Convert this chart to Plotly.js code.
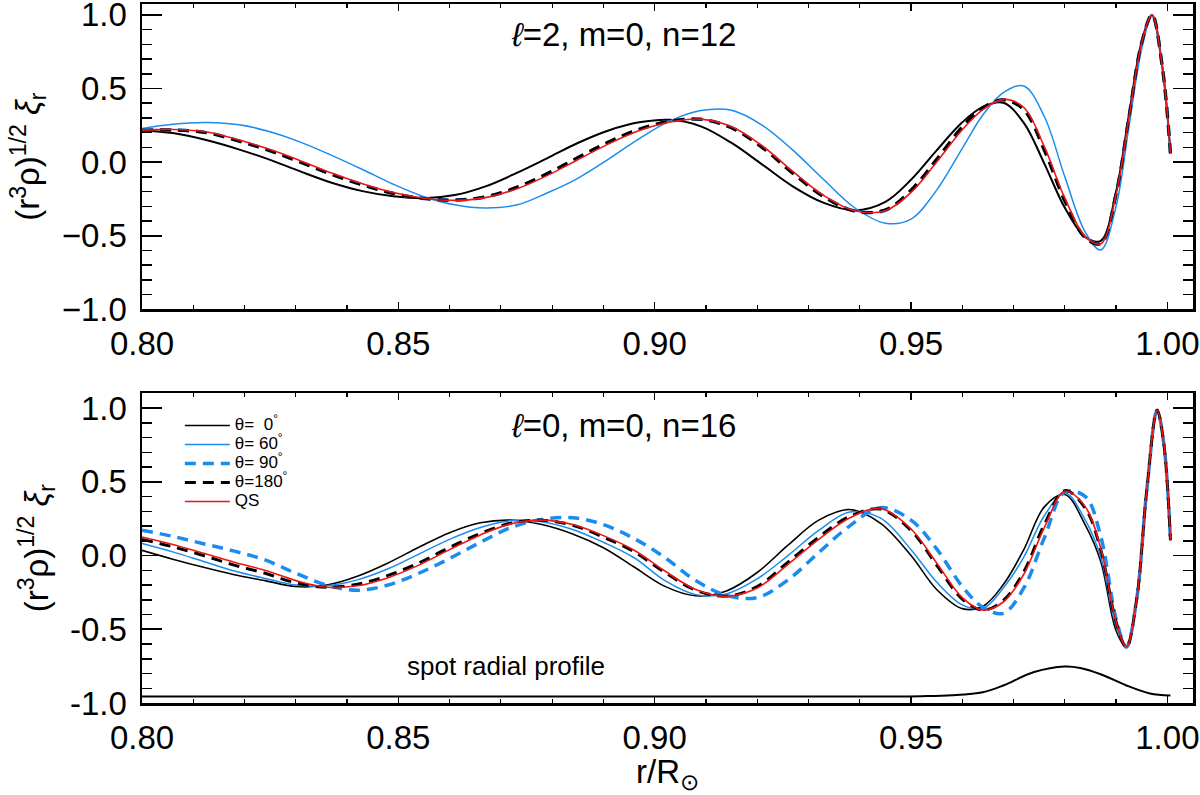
<!DOCTYPE html>
<html>
<head>
<meta charset="utf-8">
<script src="https://cdn.plot.ly/plotly-3.0.1.min.js"></script>
<style>
  html, body { margin: 0; padding: 0; background: #fff; }
  #chart { width: 1200px; height: 795px; }
</style>
</head>
<body>
<div id="chart"></div>
<script>
// ---- data ----
// upper panel: l=2, m=0, n=12
var xTop = [0.800, 0.806, 0.8127, 0.819, 0.825, 0.831, 0.837, 0.843, 0.849, 0.855,
            0.861, 0.867, 0.873, 0.879, 0.885, 0.891, 0.897, 0.903, 0.909, 0.915,
            0.921, 0.927, 0.933, 0.939, 0.945, 0.950, 0.955, 0.960, 0.964, 0.968,
            0.972, 0.976, 0.980, 0.984, 0.987, 0.990, 0.9925, 0.995, 0.997, 0.999, 1.0006];
var top0 =   [0.215, 0.197, 0.148, 0.085, 0.015, -0.065, -0.140, -0.197, -0.232, -0.245,
              -0.224, -0.165, -0.075, 0.026, 0.130, 0.215, 0.270, 0.287, 0.243, 0.130,
              -0.017, -0.166, -0.277, -0.328, -0.270, -0.120, 0.080, 0.270, 0.375, 0.403,
              0.267, -0.010, -0.310, -0.510, -0.535, -0.200, 0.320, 0.820, 1.000, 0.650, 0.061];
var top60 =  [0.229, 0.258, 0.269, 0.253, 0.206, 0.134, 0.046, -0.050, -0.150, -0.235,
              -0.290, -0.312, -0.292, -0.210, -0.110, 0.020, 0.160, 0.280, 0.350, 0.352,
              0.250, 0.080, -0.120, -0.310, -0.415, -0.387, -0.190, 0.094, 0.320, 0.472,
              0.517, 0.310, -0.100, -0.477, -0.597, -0.300, 0.240, 0.770, 0.990, 0.650, 0.060];
var top90 =  [0.217, 0.219, 0.200, 0.143, 0.077, -0.001, -0.083, -0.154, -0.212, -0.247,
              -0.258, -0.237, -0.174, -0.080, 0.029, 0.135, 0.222, 0.277, 0.291, 0.234,
              0.101, -0.075, -0.233, -0.332, -0.327, -0.194, 0.015, 0.235, 0.367, 0.423,
              0.358, 0.085, -0.260, -0.512, -0.554, -0.217, 0.302, 0.811, 1.000, 0.650, 0.060];
var top180 = [0.216, 0.218, 0.199, 0.142, 0.076, -0.002, -0.084, -0.155, -0.213, -0.248,
              -0.258, -0.236, -0.172, -0.078, 0.031, 0.137, 0.224, 0.278, 0.291, 0.232,
              0.098, -0.078, -0.236, -0.333, -0.325, -0.190, 0.020, 0.240, 0.370, 0.423,
              0.355, 0.080, -0.265, -0.515, -0.553, -0.215, 0.305, 0.812, 1.000, 0.650, 0.060];
var topQS =  [0.217, 0.222, 0.205, 0.150, 0.085, 0.008, -0.074, -0.147, -0.207, -0.245,
              -0.260, -0.241, -0.183, -0.092, 0.016, 0.124, 0.215, 0.273, 0.292, 0.240,
              0.110, -0.065, -0.227, -0.330, -0.330, -0.206, 0.000, 0.220, 0.356, 0.426,
              0.371, 0.105, -0.245, -0.507, -0.555, -0.220, 0.300, 0.810, 1.000, 0.650, 0.060];

// lower panel: l=0, m=0, n=16
var xBot = [0.800, 0.806, 0.812, 0.818, 0.824, 0.830, 0.836, 0.842, 0.848, 0.854,
            0.860, 0.866, 0.872, 0.878, 0.884, 0.890, 0.896, 0.902, 0.908, 0.914,
            0.920, 0.926, 0.932, 0.938, 0.944, 0.950, 0.955, 0.960, 0.964, 0.968,
            0.972, 0.976, 0.980, 0.984, 0.987, 0.990, 0.992, 0.994, 0.996, 0.998, 0.9993, 1.0006];
var bot0 =   [0.035, -0.025, -0.080, -0.130, -0.170, -0.210, -0.200, -0.140, -0.050, 0.056,
              0.155, 0.222, 0.240, 0.210, 0.146, 0.053, -0.078, -0.209, -0.273, -0.240,
              -0.115, 0.070, 0.240, 0.312, 0.220, 0.000, -0.230, -0.360, -0.345, -0.197,
              0.040, 0.330, 0.414, 0.206, -0.040, -0.510, -0.621, -0.300, 0.450, 0.985, 0.760, 0.104];
var bot60 =  [0.082, 0.025, -0.040, -0.105, -0.155, -0.200, -0.205, -0.165, -0.090, 0.010,
              0.110, 0.190, 0.237, 0.230, 0.177, 0.090, -0.015, -0.170, -0.265, -0.260,
              -0.158, 0.000, 0.170, 0.295, 0.255, 0.040, -0.180, -0.335, -0.360, -0.220,
              -0.010, 0.270, 0.425, 0.240, -0.010, -0.480, -0.621, -0.300, 0.450, 0.985, 0.760, 0.104];
var bot90 =  [0.172, 0.130, 0.080, 0.030, -0.030, -0.120, -0.200, -0.235, -0.200, -0.120,
              -0.020, 0.090, 0.190, 0.245, 0.257, 0.210, 0.115, -0.014, -0.170, -0.270,
              -0.285, -0.165, 0.020, 0.200, 0.325, 0.240, 0.045, -0.210, -0.350, -0.392,
              -0.220, 0.120, 0.430, 0.400, 0.130, -0.430, -0.621, -0.300, 0.450, 0.985, 0.760, 0.104];
var bot180 = [0.109, 0.060, 0.000, -0.065, -0.120, -0.185, -0.215, -0.195, -0.135, -0.050,
              0.055, 0.150, 0.220, 0.240, 0.205, 0.125, 0.025, -0.115, -0.235, -0.275,
              -0.210, -0.045, 0.125, 0.265, 0.315, 0.170, -0.065, -0.295, -0.370, -0.305,
              -0.110, 0.210, 0.440, 0.320, 0.040, -0.450, -0.621, -0.300, 0.450, 0.985, 0.760, 0.104];
var botQS =  [0.126, 0.075, 0.015, -0.045, -0.100, -0.170, -0.215, -0.205, -0.150, -0.065,
              0.040, 0.140, 0.215, 0.240, 0.210, 0.135, 0.036, -0.105, -0.230, -0.276,
              -0.220, -0.060, 0.110, 0.255, 0.318, 0.180, -0.050, -0.285, -0.370, -0.315,
              -0.127, 0.190, 0.435, 0.330, 0.050, -0.450, -0.621, -0.300, 0.450, 0.985, 0.760, 0.104];

// spot radial profile (lower panel)
var spotX = [0.800, 0.850, 0.900, 0.940, 0.952, 0.958, 0.964, 0.968, 0.974, 0.980, 0.983, 0.987, 0.992, 0.9966, 1.0006];
var spotY = [-0.956, -0.956, -0.956, -0.956, -0.954, -0.948, -0.927, -0.881, -0.790, -0.752, -0.762, -0.805, -0.881, -0.935, -0.950];

var legendNames = ['θ=\u00a0\u00a00<sup>°</sup>', 'θ=\u00a060<sup>°</sup>', 'θ=\u00a090<sup>°</sup>',
                   'θ=180<sup>°</sup>', 'QS'];
var yTickVals = [-1.0, -0.5, 0.0, 0.5, 1.0];
var yTickTextTop = ['\u22121.0', '\u22120.5', '0.0', '0.5', '1.0'];
var yTickTextBot = ['-1.0', '-0.5', '0.0', '0.5', '1.0'];
var panelLabels = ['<i>ℓ</i>=2, m=0, n=12', '<i>ℓ</i>=0, m=0, n=16'];

// ---- styles ----
var BLUE = '#1a8cf0', RED = '#f01414', BLACK = '#000000';
var FONT = 'Liberation Sans, Arial, Helvetica, sans-serif';

function curves(x, ys, xa, ya, showleg, w0) {
    var styles = [
        {color: BLACK, width: w0, dash: 'solid'},
        {color: BLUE, width: 1.5, dash: 'solid'},
        {color: BLUE, width: 3.5, dash: '11px,7px'},
        {color: BLACK, width: 3, dash: '11px,7px'},
        {color: RED, width: 1.6, dash: 'solid'}
    ];
    return ys.map(function (y, i) {
        return {
            x: x, y: y, xaxis: xa, yaxis: ya,
            type: 'scatter', mode: 'lines',
            line: {color: styles[i].color, width: styles[i].width, dash: styles[i].dash,
                   shape: 'spline', smoothing: 1},
            // legend rows are spaced by the small legend font, text drawn larger
            name: '<span style="font-size:17px">' + legendNames[i] + '</span>',
            showlegend: showleg,
            hoverinfo: 'skip'
        };
    });
}

var data = []
    .concat(curves(xTop, [top0, top60, top90, top180, topQS], 'x', 'y', false, 2))
    .concat(curves(xBot, [bot0, bot60, bot90, bot180, botQS], 'x2', 'y2', true, 1.6));
data.push({
    x: spotX, y: spotY, xaxis: 'x2', yaxis: 'y2',
    type: 'scatter', mode: 'lines',
    line: {color: BLACK, width: 2, shape: 'spline', smoothing: 1},
    showlegend: false, hoverinfo: 'skip'
});

function xAxis(anchor) {
    return {
        anchor: anchor, domain: [0, 1], range: [0.80, 1.005],
        showgrid: false, zeroline: false,
        showline: true, linecolor: BLACK, linewidth: 2.5, mirror: 'ticks',
        ticks: 'inside', ticklen: 7, tickwidth: 1.5, tickcolor: BLACK,
        dtick: 0.05, tick0: 0.80, tickformat: '.2f',
        minor: {dtick: 0.01, ticks: 'inside', ticklen: 4, tickwidth: 1.2, tickcolor: BLACK},
        tickfont: {family: FONT, size: 33, color: BLACK},
        ticklabelstandoff: 4, ticklabeloverflow: 'allow',
        fixedrange: true
    };
}
function yAxis(anchor, dom, top, text) {
    return {
        anchor: anchor, domain: dom, range: [-1.0, top],
        showgrid: false, zeroline: false,
        showline: true, linecolor: BLACK, linewidth: 2.5, mirror: 'ticks',
        ticks: 'inside', ticklen: 20, tickwidth: 1.8, tickcolor: BLACK,
        tickvals: yTickVals, ticktext: text,
        minor: {dtick: 0.1, tick0: 0, ticks: 'inside', ticklen: 10, tickwidth: 1.5, tickcolor: BLACK},
        tickfont: {family: FONT, size: 33, color: BLACK},
        ticklabelstandoff: 6, ticklabeloverflow: 'allow',
        title: {text: '(r<sup>3</sup>ρ)<sup>1/2</sup> <i>ξ</i><sub>r</sub>',
                font: {family: FONT, size: 33, color: BLACK}, standoff: 12},
        fixedrange: true
    };
}

var layout = {
    width: 1200, height: 795,
    margin: {l: 142, r: 7, t: 4, b: 92},
    paper_bgcolor: '#fff', plot_bgcolor: '#fff',
    font: {family: FONT, color: BLACK},
    xaxis: xAxis('y'),
    yaxis: yAxis('x', [0.5632, 1.0], 1.074, yTickTextTop),
    xaxis2: Object.assign(xAxis('y2'), {
        title: {text: 'r/R<sub>⊙</sub>', font: {family: FONT, size: 33, color: BLACK}, standoff: 17}
    }),
    yaxis2: yAxis('x2', [0.0, 0.443], 1.1, yTickTextBot),
    showlegend: true,
    legend: {
        x: 0.036, y: 0.4177, xanchor: 'left', yanchor: 'top',
        bgcolor: 'rgba(0,0,0,0)', borderwidth: 0,
        font: {family: FONT, size: 12, color: BLACK},
        itemwidth: 45, tracegroupgap: 0
    },
    annotations: [
        {xref: 'paper', yref: 'paper', x: 0.458, y: 0.9557, xanchor: 'center', yanchor: 'middle',
         text: panelLabels[0], showarrow: false, font: {family: FONT, size: 33, color: BLACK}},
        {xref: 'paper', yref: 'paper', x: 0.458, y: 0.3977, xanchor: 'center', yanchor: 'middle',
         text: panelLabels[1], showarrow: false, font: {family: FONT, size: 33, color: BLACK}},
        {xref: 'x2', yref: 'y2', x: 0.871, y: -0.75, xanchor: 'center', yanchor: 'middle',
         text: 'spot radial profile', showarrow: false, font: {family: FONT, size: 26, color: BLACK}}
    ]
};

Plotly.newPlot('chart', data, layout, {displayModeBar: false, staticPlot: true});
</script>
</body>
</html>
